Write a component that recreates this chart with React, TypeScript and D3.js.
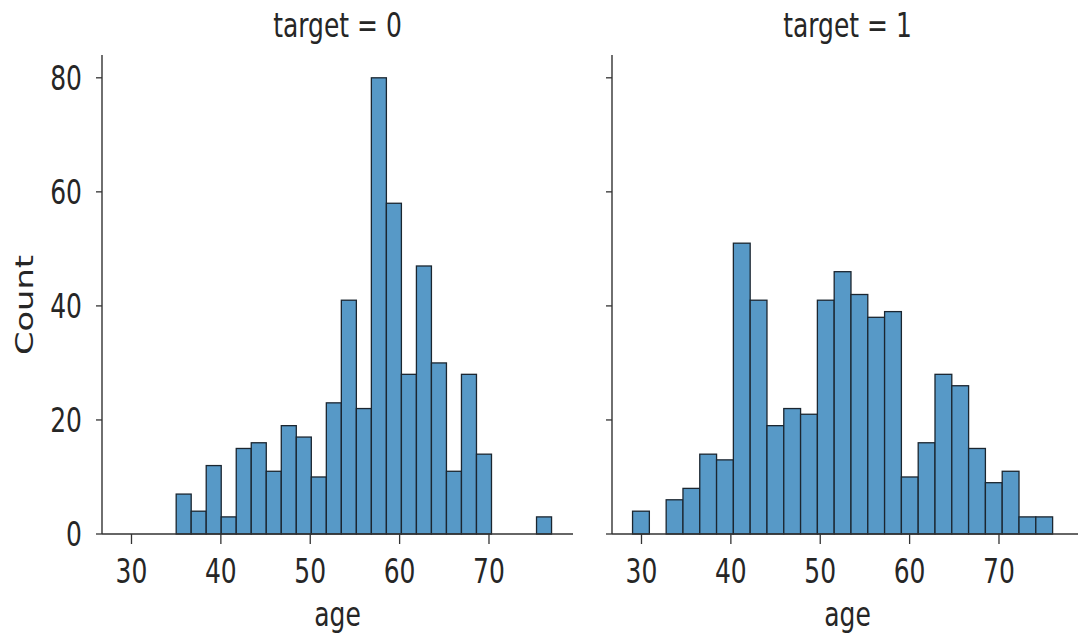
import React, { useEffect } from 'react';
import * as d3 from 'd3';

// histogram counts per bin (25 bins each facet)
const leftCounts = [7, 4, 12, 3, 15, 16, 11, 19, 17, 10, 23, 41, 22, 80, 58, 28, 47, 30, 11, 28, 14, 0, 0, 0, 3];
const leftRange = [35, 77];
const rightCounts = [4, 0, 6, 8, 14, 13, 51, 41, 19, 22, 21, 41, 46, 42, 38, 39, 10, 16, 28, 26, 15, 9, 11, 3, 3];
const rightRange = [29, 76];

const panels = [
  { title: 'target = 0', counts: leftCounts, range: leftRange, x0: 102, showYLabels: true },
  { title: 'target = 1', counts: rightCounts, range: rightRange, x0: 612, showYLabels: false },
];

const xTicks = [30, 40, 50, 60, 70];
const yTicks = [0, 20, 40, 60, 80];

const W = 1078;
const H = 636;
const panelW = 471;
const yTop = 55;
const yBottom = 534;
const FONT = '"DejaVu Sans", sans-serif';
const FS = 25;
const SY = 1.35;
const textColor = '#262626';
const spine = '#333333';

const y = d3.scaleLinear().domain([0, 84]).range([yBottom, yTop]);

const Panel = ({ p }) => {
  const x = d3.scaleLinear().domain([26.7, 79.4]).range([p.x0, p.x0 + panelW]);
  const n = p.counts.length;
  const bw = (p.range[1] - p.range[0]) / n;
  const bins = p.counts.map((c, i) => ({ lo: p.range[0] + i * bw, hi: p.range[0] + (i + 1) * bw, c }));
  const cx = p.x0 + panelW / 2;
  return (
    <g>
      {bins
        .filter((b) => b.c > 0)
        .map((b, i) => (
          <rect
            key={i}
            x={x(b.lo)}
            y={y(b.c)}
            width={x(b.hi) - x(b.lo)}
            height={y(0) - y(b.c)}
            fill="#5799c7"
            stroke="#1b2630"
            strokeWidth={1.3}
          />
        ))}
      {/* spines */}
      <line x1={p.x0} x2={p.x0} y1={yTop} y2={yBottom} stroke={spine} strokeWidth={1.4} />
      <line x1={p.x0} x2={p.x0 + panelW} y1={yBottom} y2={yBottom} stroke={spine} strokeWidth={1.4} />
      {yTicks.map((t) => (
        <g key={'y' + t}>
          <line x1={p.x0 - 6} x2={p.x0} y1={y(t)} y2={y(t)} stroke={spine} strokeWidth={1.3} />
          {p.showYLabels && (
            <text
              transform={`translate(${p.x0 - 20},${y(t) + 12}) scale(1,${SY})`}
              textAnchor="end"
              fontFamily={FONT}
              fontSize={FS}
              fill={textColor}
            >
              {t}
            </text>
          )}
        </g>
      ))}
      {xTicks.map((t) => (
        <g key={'x' + t}>
          <line x1={x(t)} x2={x(t)} y1={yBottom} y2={yBottom + 10} stroke={spine} strokeWidth={1.3} />
          <text
            transform={`translate(${x(t)},${583}) scale(1,${SY})`}
            textAnchor="middle"
            fontFamily={FONT}
            fontSize={FS}
            fill={textColor}
          >
            {t}
          </text>
        </g>
      ))}
      <text
        transform={`translate(${cx},37) scale(1,${SY})`}
        textAnchor="middle"
        fontFamily={FONT}
        fontSize={FS}
        fill={textColor}
      >
        {p.title}
      </text>
      <text
        transform={`translate(${cx},626) scale(1,${SY})`}
        textAnchor="middle"
        fontFamily={FONT}
        fontSize={FS}
        fill={textColor}
      >
        age
      </text>
    </g>
  );
};

export default function App() {
  useEffect(() => {
    document.body.style.margin = '0';
  }, []);
  return (
    <svg width={W} height={H} style={{ display: 'block', background: '#fff' }}>
      {panels.map((p) => (
        <Panel key={p.title} p={p} />
      ))}
      <text
        transform={`translate(33,305) scale(1,${SY}) rotate(-90)`}
        textAnchor="middle"
        fontFamily={FONT}
        fontSize={FS}
        fill={textColor}
      >
        Count
      </text>
    </svg>
  );
}
